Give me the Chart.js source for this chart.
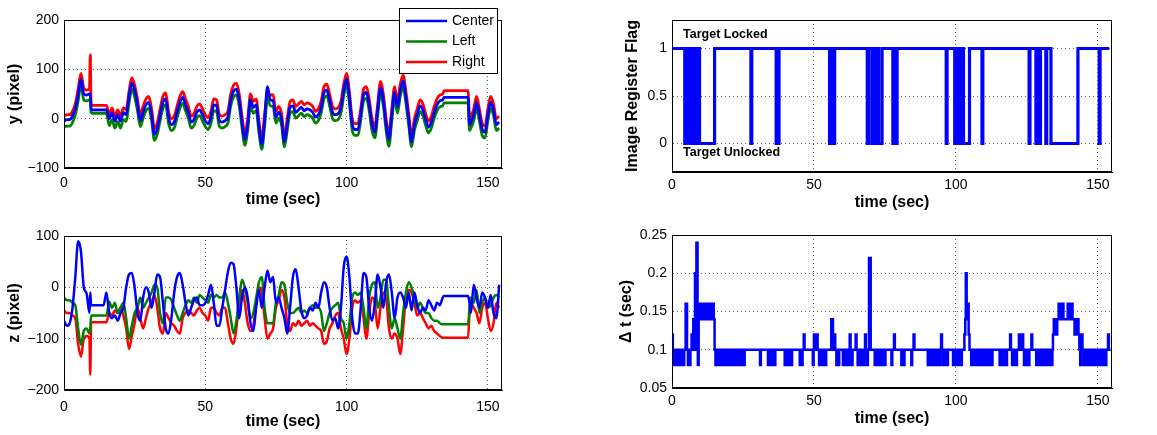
<!DOCTYPE html>
<html>
<head>
<meta charset="utf-8">
<script src="https://cdn.jsdelivr.net/npm/chart.js@4.4.0/dist/chart.umd.min.js"></script>
<style>
  body { margin: 0; background: #fff; width: 1157px; height: 435px; overflow: hidden; position: relative; }
  canvas { position: absolute; }
</style>
</head>
<body>
<canvas id="yChart" width="510" height="215" style="left:0;top:0"></canvas>
<canvas id="zChart" width="510" height="219" style="left:0;top:216px"></canvas>
<canvas id="flagChart" width="549" height="215" style="left:608px;top:0"></canvas>
<canvas id="dtChart" width="549" height="219" style="left:608px;top:216px"></canvas>
<script>
// ---- data ----
const TIME = [
  0, 1, 2, 3, 4, 5, 6, 7, 8, 9, 9.3, 9.6,
  10, 11, 12, 13, 14, 15, 16, 17, 18, 19,
  20, 21, 22, 23, 24, 25, 26, 27, 28, 29,
  30, 31, 32, 33, 34, 35, 36, 37, 38, 39,
  40, 41, 42, 43, 44, 45, 46, 47, 48, 49,
  50, 51, 52, 53, 54, 55, 56, 57, 58, 59,
  60, 61, 62, 63, 64, 65, 66, 67, 68, 69,
  70, 71, 72, 73, 74, 75, 76, 77, 78, 79,
  80, 81, 82, 83, 84, 85, 86, 87, 88, 89,
  90, 91, 92, 93, 94, 95, 96, 97, 98, 99,
  100, 101, 102, 103, 104, 105, 106, 107, 108, 109,
  110, 111, 112, 113, 114, 115, 116, 117, 118, 119,
  120, 121, 122, 123, 124, 125, 126, 127, 128, 129,
  130, 131, 132, 133, 134, 134.5, 135, 136, 137, 138, 139, 140, 141, 142, 143, 143.5,
  144, 145, 146, 147, 148, 149, 150, 151, 152, 153, 154
];

const Y_CENTER = [
  -5, -2, -2, 5, 20, 48, 80, 50, 48, 50, 50, 20,
  18, 18, 18, 18, 18, 18, 0, 12, -5, 8,
  -5, 12, 8, 45, 72, 58, 28, -4, 13, 28,
  33, 8, -32, -20, 8, 33, 40, 3, -12, -7,
  13, 33, 43, 28, 13, -7, -2, 13, 18, 8,
  -4, -10, 3, 28, 26, -4, -7, -4, 3, 38,
  56, 60, 38, -7, -42, -12, 38, 23, 28, -17,
  -52, -2, 65, 38, 36, 3, 13, -2, -47, -12,
  23, 26, 13, 18, 23, 16, 20, 18, 13, 3,
  8, 23, 53, 58, 38, 13, 8, 10, 23, 58,
  80, 43, -12, -22, -22, 8, 48, 53, 28, -12,
  -27, 18, 63, 38, -12, -42, 8, 53, 23, 58,
  76, 43, -2, -47, -12, 8, 26, 18, -2, -17,
  -7, 13, 28, 36, 38, 43, 43, 43, 43, 43, 43, 43, 43, 43, 43, -12,
  -7, 8, 33, 8, -22, -27, 8, 33, 18, -12, -7
];

const Y_LEFT = [
  -18, -15, -15, -8, 8, 36, 68, 38, 36, 38, 38, 12,
  11, 11, 11, 11, 11, 11, -14, -2, -19, -6,
  -19, -2, -6, 31, 60, 44, 16, -16, 1, 16,
  21, -4, -44, -32, -4, 21, 28, -9, -24, -19,
  1, 21, 31, 16, 1, -19, -14, 1, 6, -4,
  -16, -22, -9, 16, 14, -16, -19, -16, -9, 26,
  44, 48, 26, -19, -54, -24, 26, 11, 16, -29,
  -62, -14, 40, 26, 24, -9, 1, -14, -57, -24,
  11, 14, 1, 6, 11, 4, 8, 6, 1, -9,
  -4, 11, 41, 46, 26, 1, -4, -2, 11, 46,
  68, 31, -24, -34, -34, -4, 36, 41, 16, -24,
  -39, 6, 51, 26, -24, -56, -4, 41, 11, 46,
  64, 31, -14, -57, -24, -4, 14, 6, -14, -29,
  -19, 1, 16, 24, 26, 32, 32, 32, 32, 32, 32, 32, 32, 32, 32, -24,
  -19, -4, 21, -4, -34, -39, -4, 21, 6, -24, -19
];

const Y_RIGHT = [
  5, 8, 8, 15, 30, 60, 92, 62, 58, 62, 130, 28,
  27, 27, 27, 27, 27, 27, 10, 22, 5, 18,
  5, 22, 18, 55, 83, 68, 40, 8, 25, 40,
  45, 20, -20, -8, 20, 45, 52, 15, 0, 5,
  25, 45, 55, 40, 25, 5, 10, 25, 30, 20,
  8, 2, 15, 40, 38, 8, 5, 8, 15, 50,
  68, 72, 50, 5, -30, 0, 50, 35, 40, -5,
  -42, 10, 50, 48, 48, 15, 25, 10, -35, 0,
  35, 38, 25, 30, 35, 28, 32, 30, 25, 15,
  20, 35, 65, 70, 50, 25, 20, 22, 35, 70,
  92, 55, 0, -10, -10, 20, 60, 65, 40, 0,
  -15, 30, 75, 50, 0, -30, 20, 65, 35, 70,
  88, 55, 10, -35, 0, 20, 38, 30, 10, -5,
  5, 25, 40, 48, 50, 57, 57, 57, 57, 57, 57, 57, 57, 57, 57, 0,
  5, 20, 45, 20, -10, -15, 20, 45, 30, 0, 5
];

const Z_CENTER = [
  -65, -75, -70, -40, 20, 90, 70, 0, -12, -50, -10, -35,
  -35, -35, -35, -35, -35, -10, -50, -60, -55, -65,
  -50, -40, 0, 25, 28, 0, -50, -65, -20, 0,
  -10, -40, -10, 25, 20, -30, -80, -90, -60, -10,
  20, 28, 5, -30, -55, -40, -25, -20, -35, -35,
  -30, -15, 5, -30, -75, -75, -40, -5, 30, 48,
  45, 0, -60, -20, 0, -20, -70, -85, -40, -5,
  -40, 0, 33, 10, 20, -30, -20, -40, -60, -90,
  -40, 20, 35, 0, -45, -60, -55, -40, -45, -30,
  -40, -10, 10, 0, -40, -65, -60, -80, -40, 40,
  60, 20, -60, -90, -90, -40, 28, 20, -40, -65,
  -30, 25, 0, -40, 10, 25, -10, -60, -20, -10,
  -20, -40, -10, -45, -10, -35, -50, -40, -45, -25,
  -35, -45, -30, -35, -20, -17, -17, -17, -17, -17, -17, -17, -17, -17, -17, -30,
  -50, 5, -20, -40, -10, -20, -40, -15, -50, -60, 5
];

const Z_LEFT = [
  -20, -25, -25, -30, -35, -80, -112, -85, -80, -90, -80, -55,
  -55, -55, -55, -55, -55, -55, -28, -40, -30, -50,
  -40, -30, -60, -100, -75, -50, -40, -20, -40, -30,
  -20, -10, 5, 0, -50, -70, -20, -20, -25, -40,
  -55, -65, -50, -35, -25, -30, -20, -30, -15, -20,
  -25, -30, -15, -20, -15, -20, -20, -10, -30, -60,
  -90, -65, -20, 15, 0, -30, -60, -50, -20, 10,
  20, -40, -70, -70, -70, -30, -15, 10, 5, -30,
  -50, -50, -45, -40, -50, -45, -50, -40, -35, -40,
  -40, -50, -85, -70, -50, -40, -35, -30, -60, -70,
  -100, -70, -20, -10, -15, -10, -40, -80, -20, 5,
  10, -40, -20, 15, 15, -40, -80, -60, -80, -100,
  -50, -10, 10, 0, -20, -40, -30, -40, -50, -50,
  -60, -65, -65, -70, -72, -72, -72, -72, -72, -72, -72, -72, -72, -72, -72, -40,
  -20, -30, -5, -50, -30, -20, -40, -35, -20, -15, -20
];

const Z_RIGHT = [
  -45, -50, -50, -55, -60, -110, -135, -100, -95, -100, -170, -68,
  -68, -68, -68, -68, -68, -68, -50, -55, -45, -50,
  -40, -55, -80, -120, -95, -70, -40, -60, -80, -60,
  -40, -30, -15, -40, -80, -90, -50, -60, -70, -75,
  -85, -90, -60, -50, -45, -50, -55, -45, -40, -50,
  -55, -65, -40, -40, -50, -55, -40, -40, -70, -100,
  -110, -80, -30, -5, -30, -70, -85, -75, -30, 0,
  -10, -60, -100, -90, -80, -40, -25, -5, -20, -70,
  -85, -70, -75, -65, -75, -70, -65, -75, -70, -75,
  -80, -85, -110, -105, -80, -70, -55, -50, -80, -100,
  -130, -100, -40, -25, -30, -25, -60, -100, -50, -20,
  -30, -80, -40, -10, -20, -80, -100, -90, -100, -130,
  -80, -20, -5, -10, -30, -55, -50, -60, -70, -80,
  -75, -85, -90, -95, -98, -98, -98, -98, -98, -98, -98, -98, -98, -98, -98, -50,
  -30, -40, -50, -70, -40, -30, -60, -85, -70, -30, -40
];

// [time, flag] : value holds from this time until the next entry
const FLAG_STEPS = [
  [0, 1], [4.5, 0], [5.6, 1], [6.2, 0], [6.5, 1], [6.9, 0], [7.2, 1], [7.6, 0], [8.0, 1],
  [8.3, 0], [8.6, 1], [9.0, 0], [9.4, 1], [9.7, 0], [15.0, 1], [27.8, 0], [28.1, 1],
  [36.7, 0], [37.7, 1], [55.5, 0], [56.0, 1], [56.4, 0], [57.3, 1], [68.8, 0], [69.3, 1],
  [70.5, 0], [70.9, 1], [71.2, 0], [71.7, 1], [72.3, 0], [72.6, 1], [72.8, 0], [74.0, 1],
  [77.8, 0], [78.3, 1], [78.6, 0], [79.3, 1], [96.6, 0], [96.9, 1], [99.6, 0], [100.0, 1],
  [100.4, 0], [100.8, 1], [101.5, 0], [101.9, 1], [102.7, 0], [104.8, 1], [109.2, 0], [109.5, 1],
  [125.8, 0], [126.1, 1], [128.2, 0], [128.5, 1], [129.5, 0], [129.8, 1], [131.7, 0], [132.0, 1],
  [133.5, 0], [143.0, 1], [150.5, 0], [150.8, 1], [154, 1]
];

// [time, delta t]
const DT_STEPS = [
  [0, 0.12], [0.3, 0.1], [0.6, 0.08], [0.9, 0.1], [1.3, 0.08], [1.6, 0.1], [2.0, 0.08], [2.3, 0.1],
  [2.7, 0.08], [3.0, 0.1], [3.4, 0.08], [3.7, 0.1], [4.0, 0.08], [4.3, 0.1], [4.8, 0.16], [5.3, 0.1],
  [5.6, 0.08], [5.9, 0.1], [6.2, 0.08], [6.5, 0.1], [6.9, 0.12], [7.2, 0.1], [7.5, 0.14], [7.8, 0.1],
  [8.1, 0.2], [8.4, 0.1], [8.6, 0.24], [9.0, 0.1], [9.1, 0.08], [9.4, 0.16], [9.8, 0.14], [10.1, 0.16],
  [10.5, 0.14], [10.8, 0.16], [11.2, 0.14], [11.5, 0.16], [11.9, 0.14], [12.2, 0.16], [12.6, 0.14],
  [12.9, 0.16], [13.3, 0.14], [13.6, 0.16], [14.0, 0.14], [14.3, 0.16], [14.7, 0.14], [15.0, 0.1],
  [15.3, 0.08], [15.6, 0.1], [16.0, 0.08], [16.3, 0.1], [16.7, 0.08], [17.0, 0.1], [17.4, 0.08], [17.7, 0.1],
  [18.2, 0.08], [18.5, 0.1], [19.0, 0.08], [19.3, 0.1], [19.7, 0.08], [20.0, 0.1], [20.5, 0.08], [20.8, 0.1],
  [21.3, 0.08], [21.6, 0.1], [22.0, 0.08], [22.3, 0.1], [22.8, 0.08], [23.1, 0.1], [23.6, 0.08], [23.9, 0.1],
  [24.4, 0.08], [24.7, 0.1], [25.3, 0.08], [25.6, 0.1], [31.0, 0.08], [31.3, 0.1],
  [33.8, 0.08], [34.1, 0.1], [34.5, 0.08], [34.8, 0.1], [35.3, 0.08], [35.6, 0.1], [36.1, 0.08], [36.4, 0.1],
  [39.7, 0.08], [40.0, 0.1], [40.4, 0.08], [40.7, 0.1], [41.2, 0.08], [41.5, 0.1], [42.0, 0.08], [42.3, 0.1],
  [45.0, 0.08], [45.3, 0.1], [45.7, 0.08], [46.0, 0.1], [46.4, 0.12], [46.7, 0.1], [49.6, 0.08], [49.9, 0.1],
  [50.0, 0.12], [50.3, 0.1], [51.0, 0.12], [51.3, 0.1], [51.8, 0.08], [52.1, 0.1], [52.6, 0.08], [52.9, 0.1],
  [53.4, 0.08], [53.7, 0.1], [54.0, 0.08], [54.3, 0.1], [56.1, 0.14], [56.7, 0.1], [57.2, 0.12], [57.5, 0.1],
  [57.9, 0.08], [58.2, 0.1], [58.6, 0.08], [58.9, 0.1], [60.2, 0.08], [60.5, 0.1], [60.9, 0.08], [61.2, 0.1],
  [61.6, 0.08], [61.9, 0.1], [62.2, 0.08], [62.4, 0.1], [62.6, 0.12], [62.9, 0.1], [63.3, 0.08], [63.6, 0.1],
  [64.7, 0.12], [65.0, 0.1], [65.4, 0.08], [65.7, 0.1], [66.1, 0.08], [66.4, 0.1], [66.8, 0.08], [67.1, 0.1],
  [67.5, 0.08], [67.8, 0.1], [68.0, 0.12], [68.3, 0.1], [68.7, 0.08], [69.0, 0.1], [69.4, 0.22], [70.0, 0.1],
  [71.4, 0.08], [71.7, 0.1], [72.1, 0.08], [72.4, 0.1], [72.8, 0.08], [73.1, 0.1], [73.5, 0.08], [73.8, 0.1],
  [74.2, 0.08], [74.5, 0.1], [74.9, 0.08], [75.2, 0.1], [77.3, 0.08], [77.6, 0.1], [78.2, 0.12], [78.5, 0.1],
  [80.8, 0.08], [81.1, 0.1], [81.6, 0.08], [81.9, 0.1], [84.3, 0.08], [84.6, 0.1], [85.1, 0.12], [85.4, 0.1],
  [90.1, 0.08], [90.4, 0.1], [90.8, 0.08], [91.1, 0.1], [91.5, 0.08], [91.8, 0.1], [92.2, 0.08], [92.5, 0.1],
  [92.9, 0.08], [93.2, 0.1], [93.6, 0.08], [93.9, 0.1], [94.3, 0.08], [94.6, 0.1], [94.8, 0.12], [95.1, 0.1],
  [95.5, 0.08], [95.8, 0.1], [96.2, 0.08], [96.5, 0.1], [96.9, 0.08], [97.2, 0.1],
  [99.0, 0.08], [99.3, 0.1], [99.7, 0.08], [100.0, 0.1], [100.4, 0.08], [100.7, 0.1], [101.1, 0.08], [101.4, 0.1],
  [101.8, 0.08], [102.1, 0.1], [103.0, 0.12], [103.3, 0.14], [103.5, 0.2], [103.8, 0.14], [104.1, 0.16],
  [104.5, 0.12], [104.8, 0.1], [105.4, 0.08], [105.7, 0.1], [106.1, 0.08], [106.4, 0.1], [106.8, 0.08], [107.1, 0.1],
  [107.5, 0.08], [107.8, 0.1], [108.2, 0.08], [108.5, 0.1], [108.9, 0.08], [109.2, 0.1], [109.6, 0.08], [109.9, 0.1],
  [110.3, 0.08], [110.6, 0.1], [111.0, 0.08], [111.3, 0.1], [111.8, 0.08], [112.1, 0.1], [112.6, 0.08], [112.9, 0.1],
  [115.4, 0.08], [115.7, 0.1], [116.2, 0.08], [116.5, 0.1], [117.0, 0.08], [117.3, 0.1], [117.7, 0.08], [118.0, 0.1],
  [119.1, 0.12], [119.4, 0.1], [119.8, 0.08], [120.1, 0.1], [120.5, 0.08], [120.8, 0.1], [121.2, 0.08], [121.5, 0.1],
  [122.2, 0.12], [122.5, 0.1], [123.4, 0.12], [123.7, 0.1], [124.0, 0.08], [124.3, 0.1], [124.8, 0.08], [125.1, 0.1],
  [125.6, 0.08], [125.9, 0.1], [126.6, 0.12], [126.9, 0.1], [128.3, 0.08], [128.6, 0.1], [129.0, 0.08], [129.3, 0.1],
  [129.7, 0.08], [130.0, 0.1], [130.4, 0.08], [130.7, 0.1], [131.1, 0.08], [131.4, 0.1], [131.8, 0.08], [132.1, 0.1],
  [132.5, 0.08], [132.8, 0.1], [133.2, 0.08], [133.5, 0.1], [133.8, 0.08], [134.0, 0.1],
  [134.2, 0.12], [134.5, 0.14], [134.8, 0.12], [135.1, 0.14], [135.4, 0.12], [135.7, 0.14], [136.2, 0.16],
  [136.5, 0.14], [136.9, 0.16], [137.2, 0.14], [137.6, 0.16], [137.9, 0.14], [139.4, 0.16], [139.7, 0.14],
  [140.1, 0.16], [140.4, 0.14], [140.8, 0.16], [141.1, 0.14], [141.8, 0.12], [142.1, 0.14], [142.5, 0.12],
  [142.8, 0.14], [143.2, 0.12], [143.5, 0.1], [143.8, 0.08], [144.1, 0.1], [144.3, 0.12], [144.6, 0.1],
  [145.0, 0.08], [145.3, 0.1], [145.7, 0.08], [146.0, 0.1], [146.4, 0.08], [146.7, 0.1], [147.1, 0.08], [147.4, 0.1],
  [147.8, 0.08], [148.1, 0.1], [148.5, 0.08], [148.8, 0.1], [149.2, 0.08], [149.5, 0.1], [149.9, 0.08], [150.2, 0.1],
  [150.6, 0.08], [150.9, 0.1], [151.3, 0.08], [151.6, 0.1], [152.0, 0.08], [152.3, 0.1], [152.7, 0.08], [153.0, 0.1],
  [153.6, 0.12], [153.9, 0.1], [154.5, 0.1]
];

const X_TICKS = [0, 50, 100, 150];
const Y_TICKS = [-100, 0, 100, 200];
const Z_TICKS = [-200, -100, 0, 100];
const FLAG_TICKS = [0, 0.5, 1];
const DT_TICKS = [0.05, 0.1, 0.15, 0.2, 0.25];

const NOTE_TEXT = ["Target Locked", "Target Unlocked"];
const NOTE_X = [3.9, 3.9];
const NOTE_Y = [1.15, -0.1];

// ---- drawing ----
const FONT = '"Liberation Sans", Arial, Helvetica, sans-serif';
Chart.defaults.font.family = FONT;
Chart.defaults.color = "#000";

function fmt(v) {
    return v < 0 ? "\u2212" + (-v) : String(v);
}

const frame = {
    id: "frame",
    afterDatasetsDraw(chart) {
        const a = chart.chartArea;
        const ctx = chart.ctx;
        ctx.save();
        ctx.strokeStyle = "#000";
        ctx.lineWidth = 1;
        ctx.strokeRect(a.left + 0.5, a.top + 0.5, a.right - a.left - 1, a.bottom - a.top - 1);
        ctx.restore();
    }
};

const legendBox = {
    id: "legendBox",
    afterDraw(chart) {
        const a = chart.chartArea;
        const ctx = chart.ctx;
        const x0 = a.right - 103, y0 = a.top - 12, w = 98, h = 65;
        ctx.save();
        ctx.fillStyle = "#fff";
        ctx.fillRect(x0, y0, w, h);
        ctx.strokeStyle = "#000";
        ctx.lineWidth = 1;
        ctx.strokeRect(x0 + 0.5, y0 + 0.5, w, h);
        ctx.font = "14px " + FONT;
        ctx.textBaseline = "middle";
        chart.data.datasets.forEach((ds, i) => {
            const y = y0 + 13 + i * 20.5;
            ctx.strokeStyle = ds.borderColor;
            ctx.lineWidth = 2.5;
            ctx.beginPath();
            ctx.moveTo(x0 + 7, y);
            ctx.lineTo(x0 + 48, y);
            ctx.stroke();
            ctx.fillStyle = "#000";
            ctx.fillText(ds.label, x0 + 53, y);
        });
        ctx.restore();
    }
};

const flagNotes = {
    id: "flagNotes",
    afterDatasetsDraw(chart) {
        const ctx = chart.ctx;
        const sx = chart.scales.x, sy = chart.scales.y;
        ctx.save();
        ctx.font = "bold 12.5px " + FONT;
        ctx.fillStyle = "#000";
        ctx.textBaseline = "middle";
        NOTE_TEXT.forEach((t, i) => {
            ctx.fillText(t, sx.getPixelForValue(NOTE_X[i]), sy.getPixelForValue(NOTE_Y[i]));
        });
        ctx.restore();
    }
};

function pts(xs, ys) {
    return xs.map((x, i) => ({ x: x, y: ys[i] }));
}

function line(label, color, data, width, stepped) {
    return {
        label: label,
        data: data,
        borderColor: color,
        backgroundColor: color,
        borderWidth: width,
        pointRadius: 0,
        cubicInterpolationMode: stepped ? "default" : "monotone",
        stepped: stepped || false,
        fill: false
    };
}

function makeChart(id, p) {
    const tickFont = { size: 14, family: FONT };
    const titleFont = { size: 16, weight: "bold", family: FONT };
    const grid = { color: "#222", lineWidth: 0.7, drawTicks: false };
    const border = { display: true, color: "#000", width: 1, dash: [1, 3] };

    return new Chart(document.getElementById(id), {
        type: "line",
        data: { datasets: p.datasets },
        options: {
            responsive: false,
            animation: false,
            events: [],
            layout: { padding: { top: p.top, right: p.right, left: 0, bottom: 0 } },
            plugins: { legend: { display: false }, tooltip: { enabled: false } },
            scales: {
                x: {
                    type: "linear",
                    min: 0,
                    max: 155,
                    afterBuildTicks: s => { s.ticks = X_TICKS.map(v => ({ value: v })); },
                    afterFit: s => { s.height = p.xh; },
                    ticks: { font: tickFont, color: "#000", padding: p.xtp, maxRotation: 0, autoSkip: false, callback: fmt },
                    grid: grid,
                    border: border,
                    title: { display: true, text: "time (sec)", font: titleFont, color: "#000", padding: { top: 0, bottom: p.xtitle } }
                },
                y: {
                    type: "linear",
                    min: p.ymin,
                    max: p.ymax,
                    afterBuildTicks: s => { s.ticks = p.yticks.map(v => ({ value: v })); },
                    afterFit: s => { s.width = 64; },
                    ticks: { font: tickFont, color: "#000", padding: 5, autoSkip: false, callback: fmt },
                    grid: grid,
                    border: border,
                    title: { display: true, text: p.ytitle, font: titleFont, color: "#000", padding: { top: p.ytp, bottom: 0 } }
                }
            }
        },
        plugins: p.plugins
    });
}

makeChart("yChart", {
    datasets: [
        line("Center", "#0000ff", pts(TIME, Y_CENTER), 2.8),
        line("Left", "#008000", pts(TIME, Y_LEFT), 2.8),
        line("Right", "#ff0000", pts(TIME, Y_RIGHT), 2.8)
    ],
    top: 20, right: 8, xh: 47, xtp: 7, xtitle: 5.4,
    ymin: -100, ymax: 200, yticks: Y_TICKS, ytitle: "y (pixel)", ytp: 5.4,
    plugins: [frame, legendBox]
});

makeChart("zChart", {
    datasets: [
        line("Center", "#0000ff", pts(TIME, Z_CENTER), 2.5),
        line("Left", "#008000", pts(TIME, Z_LEFT), 2.5),
        line("Right", "#ff0000", pts(TIME, Z_RIGHT), 2.5)
    ],
    top: 20, right: 8, xh: 45, xtp: 9, xtitle: 3.9,
    ymin: -200, ymax: 100, yticks: Z_TICKS, ytitle: "z (pixel)", ytp: 5.4,
    plugins: [frame]
});

makeChart("flagChart", {
    datasets: [
        line("flag", "#0000ff", FLAG_STEPS.map(d => ({ x: d[0], y: d[1] })), 3.2, true)
    ],
    top: 20, right: 45, xh: 43, xtp: 5, xtitle: 2.4,
    ymin: -0.3, ymax: 1.3, yticks: FLAG_TICKS, ytitle: "Image Register Flag", ytp: 15.4,
    plugins: [frame, flagNotes]
});

makeChart("dtChart", {
    datasets: [
        line("dt", "#0000ff", DT_STEPS.map(d => ({ x: d[0], y: d[1] })), 2.5, true)
    ],
    top: 19, right: 45, xh: 47, xtp: 5, xtitle: 6.4,
    ymin: 0.05, ymax: 0.25, yticks: DT_TICKS, ytitle: "\u0394 t (sec)", ytp: 9.4,
    plugins: [frame]
});
</script>
</body>
</html>
